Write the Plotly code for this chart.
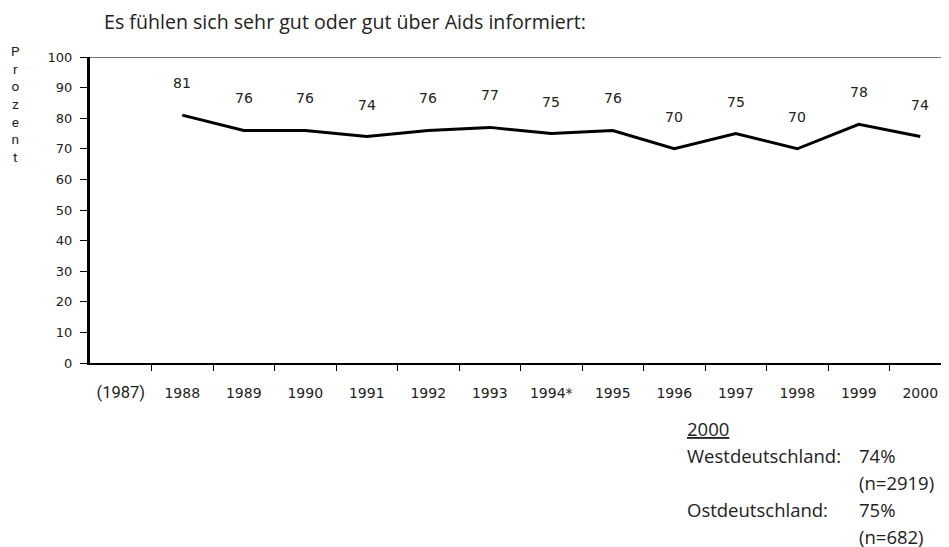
import plotly.graph_objects as go

categories = ["(1987)", "1988", "1989", "1990", "1991", "1992", "1993", "1994*",
              "1995", "1996", "1997", "1998", "1999", "2000"]
years = categories[1:]
values = [81, 76, 76, 74, 76, 77, 75, 76, 70, 75, 70, 78, 74]
y_ticks = [0, 10, 20, 30, 40, 50, 60, 70, 80, 90, 100]

title_text = "Es fühlen sich sehr gut oder gut über Aids informiert:"
y_title = "Prozent"
note_left = ["<u>2000</u>", "Westdeutschland:", "", "Ostdeutschland:", ""]
note_right = ["", "74%", "(n=2919)", "75%", "(n=682)"]

tick_text = []
for c in categories:
    if c.startswith("("):
        tick_text.append(f"<span style='font-size:16.5px;font-family:Roboto'>{c}</span>")
    else:
        tick_text.append(c)

x_idx = [categories.index(y) for y in years]

fig = go.Figure()
fig.add_trace(go.Scatter(
    x=x_idx, y=values, mode="lines",
    line=dict(color="black", width=3),
    hoverinfo="skip", showlegend=False,
))

for xi, v in zip(x_idx, values):
    fig.add_annotation(x=xi, y=v, text=str(v), showarrow=False, yshift=32,
                       font=dict(family="DejaVu Sans", size=14, color="#222"))

fig.add_shape(type="line", xref="paper", yref="y", x0=0, x1=1, y0=100, y1=100,
              line=dict(color="#444", width=1.5))

fig.add_annotation(xref="paper", yref="paper", x=0, y=1, xshift=12, yshift=36,
                   xanchor="left", yanchor="middle", text=title_text, showarrow=False,
                   font=dict(family="Open Sans", size=19.6, color="#222"))
fig.add_annotation(xref="paper", yref="paper", x=0, y=1, xshift=-75, yshift=16,
                   xanchor="center", yanchor="top",
                   text="<br>".join(list(y_title)), showarrow=False, align="center",
                   font=dict(family="Roboto", size=13.6, color="#222"))

for i, (lt, rt) in enumerate(zip(note_left, note_right)):
    ys = -65 - 27 * i
    if lt:
        fig.add_annotation(xref="paper", yref="paper", x=0, y=0, xshift=595, yshift=ys,
                           xanchor="left", yanchor="middle", text=lt, showarrow=False,
                           font=dict(family="Open Sans", size=18.5, color="#222"))
    if rt:
        fig.add_annotation(xref="paper", yref="paper", x=0, y=0, xshift=767, yshift=ys,
                           xanchor="left", yanchor="middle", text=rt, showarrow=False,
                           font=dict(family="Open Sans", size=18.5, color="#222"))

fig.update_layout(
    width=949, height=547,
    margin=dict(l=82, r=6, t=49, b=192, autoexpand=False),
    plot_bgcolor="white", paper_bgcolor="white",
    font=dict(family="Roboto", size=12, color="#222"),
    showlegend=False,
)
fig.update_xaxes(
    type="linear", automargin=False,
    tickmode="array", tickvals=list(range(len(categories))), ticktext=tick_text,
    range=[-0.5, 13.5], ticks="", showline=True, linecolor="black", linewidth=2,
    showgrid=False, zeroline=False, tickfont=dict(family="DejaVu Sans", size=14),
    ticklabelstandoff=16,
    minor=dict(tickmode="array", tickvals=[i + 0.5 for i in range(len(categories))],
               ticks="outside", ticklen=6, tickcolor="black", tickwidth=1, showgrid=False),
)
fig.update_yaxes(
    range=[0, 100], automargin=False, tickmode="array", tickvals=y_ticks,
    ticks="outside", ticklen=7, tickcolor="black", tickwidth=1,
    showline=True, linecolor="black", linewidth=3, showgrid=False, zeroline=False,
    tickfont=dict(family="DejaVu Sans", size=13), ticklabelstandoff=5,
)

fig.write_html("out.html")
